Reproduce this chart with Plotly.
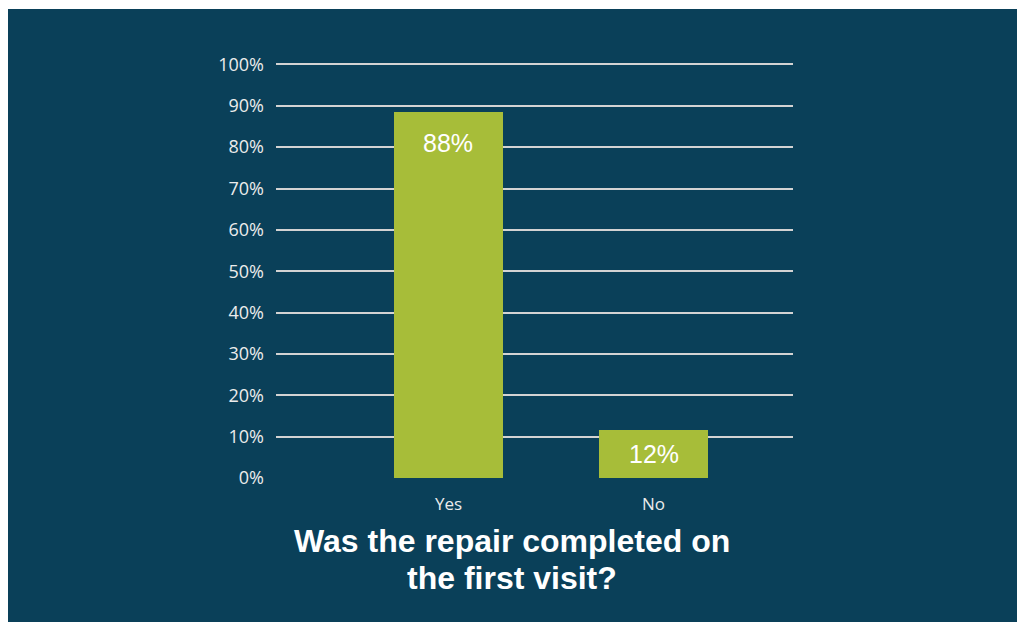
import plotly.graph_objects as go

categories = ["Yes", "No"]
values = [88.4, 11.6]
value_labels = ["88%", "12%"]
y_ticks = list(range(0, 101, 10))
y_tick_labels = [f"{v}%" for v in y_ticks]
title_lines = ["Was the repair completed on", "the first visit?"]

W, H = 1017, 622
px_per_unit = 4.14
Y_TOP = 100.6
L, R, B = 276, 224, 144
T = round(H - B - Y_TOP * px_per_unit)
plot_h = H - T - B

BG = "#0a4059"
BAR = "#a7bd39"
TXT = "#ececec"

fig = go.Figure()
fig.add_trace(go.Bar(
    x=categories, y=values, width=0.532,
    marker=dict(color=BAR, line=dict(width=0)),
    hoverinfo="skip",
))

annotations = []
for c, v, lab in zip(categories, values, value_labels):
    off = min(31, v * px_per_unit / 2)
    annotations.append(dict(
        x=c, y=v, xref="x", yref="y", text=lab, showarrow=False,
        yanchor="middle", yshift=-off,
        font=dict(family="Liberation Sans, Arial", size=25, color="white"),
    ))

title_y_px = [541, 578]
for line, ypx in zip(title_lines, title_y_px):
    annotations.append(dict(
        x=(512 - L) / (W - L - R), y=(H - B - ypx) / plot_h,
        xref="paper", yref="paper", text=f"<b>{line}</b>", showarrow=False,
        xanchor="center", yanchor="middle",
        font=dict(family="Liberation Sans, Arial", size=32, color="white"),
    ))

pw = W - L - R
fig.add_shape(
    type="rect", xref="paper", yref="paper", layer="below",
    x0=(8 - L) / pw, x1=(W + 5 - L) / pw,
    y0=(H - B - (H + 5)) / plot_h, y1=(H - B - 9) / plot_h,
    fillcolor=BG, line=dict(width=0),
)

fig.update_layout(
    width=W, height=H,
    margin=dict(l=L, r=R, t=T, b=B, pad=0),
    paper_bgcolor="white",
    plot_bgcolor="rgba(0,0,0,0)",
    showlegend=False,
    annotations=annotations,
    bargap=0,
)
fig.update_xaxes(
    type="category", range=[-0.841, 1.680],
    showgrid=False, zeroline=False, showline=False,
    ticks="", ticklabelstandoff=14,
    tickfont=dict(family="Open Sans", size=17, color=TXT),
    fixedrange=True,
)
fig.update_yaxes(
    range=[0, Y_TOP], tickvals=y_ticks, ticktext=y_tick_labels,
    showgrid=True, gridcolor="#d3d3d3", gridwidth=1.6,
    zeroline=False, showline=False,
    ticks="", ticklabelstandoff=11,
    tickfont=dict(family="Open Sans", size=18, color=TXT),
    fixedrange=True,
)

fig.write_html("out.html", config={"displayModeBar": False})
